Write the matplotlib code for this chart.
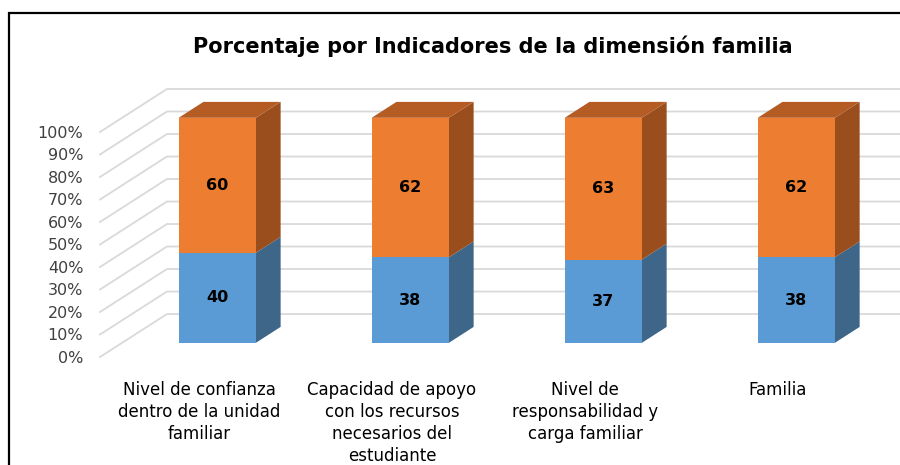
import matplotlib
matplotlib.use("Agg")
import matplotlib.pyplot as plt
from matplotlib.patches import Polygon, Rectangle

# datos
categorias = [
    "Nivel de confianza\ndentro de la unidad\nfamiliar",
    "Capacidad de apoyo\ncon los recursos\nnecesarios del\nestudiante",
    "Nivel de\nresponsabilidad y\ncarga familiar",
    "Familia",
]
serie_azul = [40, 38, 37, 38]
serie_naranja = [60, 62, 63, 62]
ticks_y = list(range(0, 101, 10))

# colores (cara frontal, lateral, superior)
azul = ("#5B9BD5", "#3D6689", "#4A7DAD")
naranja = ("#ED7D31", "#9A4E1D", "#B45C24")

# profundidad en unidades de datos (pseudo 3D)
DX = 0.347
DY = 19.1
D0, D1 = 0.33, 0.70
ANCHO = 0.40
X_BARRA = -0.02  # pequeño corrimiento de las barras respecto a la etiqueta


def proj(x, y, d):
    return (x + d * DX, y + d * DY)


def caja(ax, xc, y0, y1, cols, top=False):
    xl, xr = xc - ANCHO / 2, xc + ANCHO / 2
    frente = [proj(xl, y0, D0), proj(xr, y0, D0), proj(xr, y1, D0), proj(xl, y1, D0)]
    lado = [proj(xr, y0, D0), proj(xr, y0, D1), proj(xr, y1, D1), proj(xr, y1, D0)]
    ax.add_patch(Polygon(lado, closed=True, fc=cols[1], ec="none", zorder=3))
    if top:
        arriba = [proj(xl, y1, D0), proj(xr, y1, D0), proj(xr, y1, D1), proj(xl, y1, D1)]
        ax.add_patch(Polygon(arriba, closed=True, fc=cols[2], ec="none", zorder=3))
    ax.add_patch(Polygon(frente, closed=True, fc=cols[0], ec="none", zorder=4))


fig = plt.figure(figsize=(9, 4.65), dpi=100)
ax = fig.add_axes([100 / 900, 108 / 465, 800 / 900, 277 / 465])
x = list(range(len(categorias)))
xmin, xmax = -0.513, 3.632
ax.set_xlim(xmin, xmax)
ax.set_ylim(0, 123.1)

# lineas de cuadricula: pared lateral y pared del fondo
for v in ticks_y:
    p0 = proj(xmin, v, 0)
    p1 = proj(xmin, v, 1)
    p2 = proj(xmax + 1, v, 1)
    ax.plot([p0[0], p1[0], p2[0]], [p0[1], p1[1], p2[1]], color="#D9D9D9",
            lw=1.3, zorder=1, clip_on=False)

for i in x:
    xb = i + X_BARRA
    caja(ax, xb, 0, serie_azul[i], azul)
    caja(ax, xb, serie_azul[i], serie_azul[i] + serie_naranja[i], naranja, top=True)
    xc, _ = proj(xb, 0, D0)
    ax.text(xc, serie_azul[i] / 2 + D0 * DY, str(serie_azul[i]), ha="center", va="center",
            fontsize=11.5, fontweight="bold", color="black", zorder=5)
    ax.text(xc, serie_azul[i] + serie_naranja[i] / 2 + D0 * DY, str(serie_naranja[i]),
            ha="center", va="center", fontsize=11.5, fontweight="bold", color="black", zorder=5)

ax.set_yticks(ticks_y, [f"{v}%" for v in ticks_y], fontsize=11.5, color="#404040")
ax.set_xticks(x, categorias, fontsize=12, linespacing=1.3, color="black")
ax.tick_params(axis="y", length=0, pad=12)
ax.tick_params(axis="x", length=0, pad=17)
for s in ax.spines.values():
    s.set_visible(False)

fig.text(493 / 900, 1 - 46 / 465, "Porcentaje por Indicadores de la dimensión familia",
         ha="center", va="center", fontsize=15, fontweight="bold")

# marco del grafico (recortado a la derecha y abajo)
fig.patches.append(Rectangle((9 / 900, -0.2), 1.2, 1.2 - 13 / 465, transform=fig.transFigure,
                             fill=False, ec="black", lw=1.6))

fig.savefig("out.png", dpi=100)
